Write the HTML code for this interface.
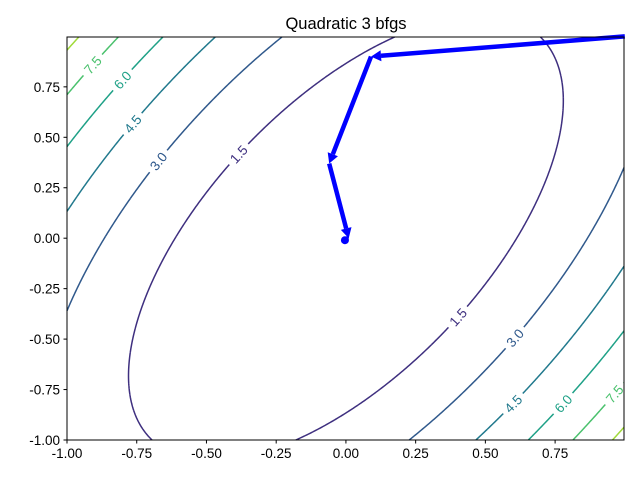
<!DOCTYPE html>
<html><head><meta charset="utf-8"><style>
body{margin:0;background:#fff;}
svg text{font-family:"Liberation Sans","DejaVu Sans",sans-serif;}
</style></head><body>
<svg id="chart" width="640" height="480" viewBox="0 0 640 480">
<rect width="640" height="480" fill="#fff"/>
<text x="346" y="29" font-size="16.5" text-anchor="middle" fill="#000">Quadratic 3 bfgs</text>
<g id="contours"></g>
<g id="labels"></g>
<g id="arrows"></g>
<rect x="67" y="37" width="557" height="403" fill="none" stroke="#000" stroke-width="1"/>
<g id="axes"></g>
</svg>
<script>
const coefA = 4.0, coefB = -3.5, coefC = 2.0;
const levels = [1.5, 3.0, 4.5, 6.0, 7.5, 9.0];
const levelColors = ["#3e2f7f", "#30598c", "#21798d", "#1fa187", "#4ac16d", "#a0da39"];
const xTicks = [-1.0, -0.75, -0.5, -0.25, 0.0, 0.25, 0.5, 0.75];
const yTicks = [-1.0, -0.75, -0.5, -0.25, 0.0, 0.25, 0.5, 0.75];
const pathX = [1.0, 0.09, -0.06, 0.01, 0.0];
const pathY = [1.0, 0.90, 0.37, 0.0, 0.0];
const labelLevels = [7.5, 6.0, 4.5, 3.0, 1.5, 1.5, 3.0, 4.5, 6.0, 7.5];
const labelX = [-0.91, -0.81, -0.77, -0.67, -0.39, 0.40, 0.60, 0.60, 0.78, 0.96];
const labelY = [0.86, 0.79, 0.57, 0.38, 0.42, -0.39, -0.49, -0.82, -0.82, -0.77];

const X0=67, X1=624, Y0=440, Y1=37, DMIN=-1, DMAX=0.997;
const sx = v => X0 + (v-DMIN)/(DMAX-DMIN)*(X1-X0);
const sy = v => Y0 - (v-DMIN)/(DMAX-DMIN)*(Y0-Y1);
const f = (x,y) => coefA*x*x + coefB*x*y + coefC*y*y;
const NS="http://www.w3.org/2000/svg";

const N=220, g=[];
for(let i=0;i<=N;i++){g.push([]);for(let j=0;j<=N;j++){const x=DMIN+(DMAX-DMIN)*i/N,y=DMIN+(DMAX-DMIN)*j/N;g[i].push(f(x,y));}}
const cg=document.getElementById('contours');
levels.forEach((L,k)=>{
  let d="";
  const P=(i,j)=>[DMIN+(DMAX-DMIN)*i/N, DMIN+(DMAX-DMIN)*j/N];
  for(let i=0;i<N;i++)for(let j=0;j<N;j++){
    const c=[[i,j],[i+1,j],[i+1,j+1],[i,j+1]];
    const pts=[];
    for(let e=0;e<4;e++){
      const a=c[e],b=c[(e+1)%4];
      const va=g[a[0]][a[1]],vb=g[b[0]][b[1]];
      if((va<L)!==(vb<L)){
        const t=(L-va)/(vb-va);
        const pa=P(a[0],a[1]),pb=P(b[0],b[1]);
        pts.push([pa[0]+t*(pb[0]-pa[0]),pa[1]+t*(pb[1]-pa[1])]);
      }
    }
    for(let m=0;m+1<pts.length;m+=2){
      d+="M"+sx(pts[m][0]).toFixed(2)+" "+sy(pts[m][1]).toFixed(2)+"L"+sx(pts[m+1][0]).toFixed(2)+" "+sy(pts[m+1][1]).toFixed(2);
    }
  }
  const p=document.createElementNS(NS,'path');
  p.setAttribute('d',d);p.setAttribute('stroke',levelColors[k]);p.setAttribute('stroke-width','1.5');p.setAttribute('fill','none');
  
  
  cg.appendChild(p);
});

const lg=document.getElementById('labels');
labelLevels.forEach((L,i)=>{
  let x=labelX[i],y=labelY[i];
  for(let it=0;it<20;it++){
    const gx=2*coefA*x+coefB*y, gy=coefB*x+2*coefC*y;
    const gg=gx*gx+gy*gy; if(gg<1e-9)break;
    const r=(f(x,y)-L)/gg; x-=r*gx; y-=r*gy;
  }
  const gx=2*coefA*x+coefB*y, gy=coefB*x+2*coefC*y;
  const sgx=gx/(X1-X0), sgy=-gy/(Y0-Y1);
  let ang=Math.atan2(sgx,-sgy)*180/Math.PI;
  if(ang>90)ang-=180; if(ang<-90)ang+=180;
  const px=sx(x),py=sy(y);
  const k=levels.indexOf(L);
  const gEl=document.createElementNS(NS,'g');
  gEl.setAttribute('transform','translate('+px+' '+py+') rotate('+ang+')');
  
  
  const r=document.createElementNS(NS,'rect');
  r.setAttribute('x',-14);r.setAttribute('y',-8);r.setAttribute('width',28);r.setAttribute('height',16);r.setAttribute('fill','#fff');
  gEl.appendChild(r);
  const t=document.createElementNS(NS,'text');
  t.setAttribute('x',0);t.setAttribute('y',5);t.setAttribute('font-size','13.5');t.setAttribute('text-anchor','middle');t.setAttribute('fill',levelColors[k]);
  t.textContent=L.toFixed(1);
  gEl.appendChild(t);
  lg.appendChild(gEl);
});

const ag=document.getElementById('arrows');
for(let i=0;i+1<pathX.length;i++){
  const x1=sx(pathX[i]),y1=sy(pathY[i]),x2=sx(pathX[i+1]),y2=sy(pathY[i+1]);
  const dx=x2-x1,dy=y2-y1,len=Math.hypot(dx,dy);
  if(len<1)continue;
  const ux=dx/len,uy=dy/len,hl=Math.min(10,len*0.6),hw=5.5;
  const bx=x2-ux*hl,by=y2-uy*hl;
  const grp=document.createElementNS(NS,'g');
  
  
  const ln=document.createElementNS(NS,'line');
  ln.setAttribute('x1',x1);ln.setAttribute('y1',y1);ln.setAttribute('x2',bx);ln.setAttribute('y2',by);
  ln.setAttribute('stroke','#0000ff');ln.setAttribute('stroke-width','4.5');
  grp.appendChild(ln);
  const hd=document.createElementNS(NS,'polygon');
  hd.setAttribute('points',x2+','+y2+' '+(bx-uy*hw)+','+(by+ux*hw)+' '+(bx+uy*hw)+','+(by-ux*hw));
  hd.setAttribute('fill','#0000ff');
  grp.appendChild(hd);
  ag.appendChild(grp);
}
const blob=document.createElementNS(NS,'circle');
blob.setAttribute('cx',sx(0)-1);blob.setAttribute('cy',sy(0)+2);blob.setAttribute('r',4);blob.setAttribute('fill','#0000ff');


ag.appendChild(blob);

const ax=document.getElementById('axes');
xTicks.forEach(v=>{
  const x=sx(v);
  const l=document.createElementNS(NS,'line');
  l.setAttribute('x1',x);l.setAttribute('x2',x);l.setAttribute('y1',440);l.setAttribute('y2',443.5);l.setAttribute('stroke','#000');
  
  
  ax.appendChild(l);
  const t=document.createElementNS(NS,'text');
  t.setAttribute('x',x);t.setAttribute('y',458);t.setAttribute('font-size','13.5');t.setAttribute('text-anchor','middle');
  t.textContent=v.toFixed(2);
  
  
  ax.appendChild(t);
});
yTicks.forEach(v=>{
  const y=sy(v);
  const l=document.createElementNS(NS,'line');
  l.setAttribute('x1',63.5);l.setAttribute('x2',67);l.setAttribute('y1',y);l.setAttribute('y2',y);l.setAttribute('stroke','#000');
  
  
  ax.appendChild(l);
  const t=document.createElementNS(NS,'text');
  t.setAttribute('x',60);t.setAttribute('y',y+5);t.setAttribute('font-size','13.5');t.setAttribute('text-anchor','end');
  t.textContent=v.toFixed(2);
  
  
  ax.appendChild(t);
});
</script>
</body></html>
